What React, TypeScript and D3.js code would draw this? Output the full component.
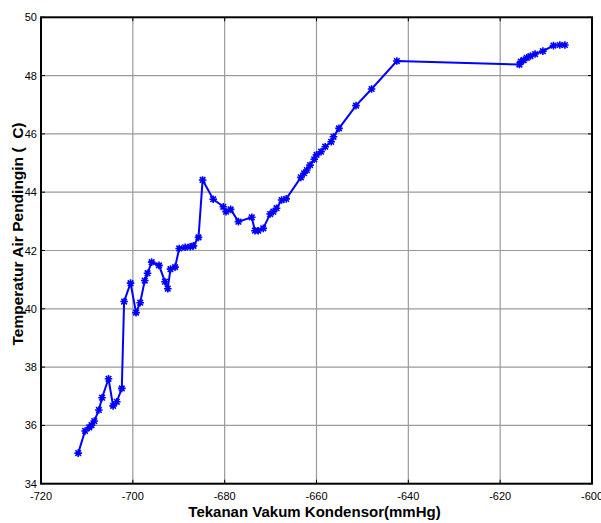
import React from "react";
import * as d3 from "d3";

const pressure = [
  -711.9, -710.4, -709.5, -709.0, -708.4, -707.4, -706.7, -705.3, -704.3, -703.5,
  -702.4, -701.9, -700.5, -699.3, -698.4, -697.4, -696.8, -695.9, -694.3, -693.0,
  -692.4, -691.8, -690.8, -689.9, -688.6, -687.5, -686.8, -685.7, -684.8, -682.5,
  -680.3, -679.7, -678.7, -677.0, -674.1, -673.4, -672.7, -671.6, -670.1, -669.4,
  -668.7, -667.6, -666.6, -663.4, -662.7, -662.1, -661.4, -660.5, -660.0, -659.0,
  -658.1, -656.8, -656.3, -655.1, -651.4, -648.0, -642.5, -615.8, -615.5, -614.9,
  -614.2, -613.4, -612.4, -610.7, -608.4, -607.0, -605.9,
];
const temperature = [
  35.05, 35.81, 35.93, 36.01, 36.15, 36.53, 36.95, 37.6, 36.67, 36.81,
  37.27, 40.25, 40.88, 39.87, 40.21, 40.97, 41.22, 41.6, 41.49, 40.93,
  40.69, 41.36, 41.43, 42.07, 42.11, 42.13, 42.16, 42.45, 44.42, 43.76,
  43.5, 43.33, 43.41, 42.99, 43.14, 42.68, 42.68, 42.76, 43.25, 43.33,
  43.45, 43.73, 43.77, 44.51, 44.65, 44.76, 44.93, 45.13, 45.28, 45.39,
  45.56, 45.73, 45.9, 46.19, 46.97, 47.54, 48.5, 48.38, 48.48, 48.53,
  48.61, 48.67, 48.74, 48.84, 49.03, 49.05, 49.05,
];
const xTicks = [-720, -700, -680, -660, -640, -620, -600];
const yTicks = [34, 36, 38, 40, 42, 44, 46, 48, 50];
const xLabel = "Tekanan Vakum Kondensor(mmHg)";
const yLabel = "Temperatur Air Pendingin (\u00A0\u00A0C)";

export default function App() {
  const W = 601, H = 523;
  const left = 41, right = 592, top = 17.3, bottom = 483.7;
  const x = d3.scaleLinear().domain([-720, -600]).range([left, right]);
  const y = d3.scaleLinear().domain([34, 50]).range([bottom, top]);
  const pts = pressure.map((p, i) => [p, temperature[i]] as [number, number]);
  const line = d3.line<[number, number]>().x(d => x(d[0])).y(d => y(d[1]));
  const font = "Arial, 'Liberation Sans', sans-serif";
  const m = 3.8;
  const md = 2.8;
  const tickLen = 4;
  return (
    <svg width={W} height={H} style={{ position: "fixed", left: 0, top: 0, background: "#fff" }}>
      <rect x={0} y={0} width={W} height={H} fill="#fff" />
      {xTicks.slice(1, -1).map(t => (
        <line key={"gx" + t} x1={x(t)} x2={x(t)} y1={top} y2={bottom} stroke="#9a9a9a" strokeWidth={1.2} />
      ))}
      {yTicks.slice(1, -1).map(t => (
        <line key={"gy" + t} x1={left} x2={right} y1={y(t)} y2={y(t)} stroke="#9a9a9a" strokeWidth={1.2} />
      ))}
      {xTicks.map(t => (
        <g key={"tx" + t}>
          <line x1={x(t)} x2={x(t)} y1={bottom} y2={bottom - tickLen} stroke="#000" strokeWidth={1} />
          <line x1={x(t)} x2={x(t)} y1={top} y2={top + tickLen} stroke="#000" strokeWidth={1} />
          <text x={x(t)} y={500} textAnchor="middle" fontFamily={font} fontSize={11} fill="#000">{t}</text>
        </g>
      ))}
      {yTicks.map(t => (
        <g key={"ty" + t}>
          <line x1={left} x2={left + tickLen} y1={y(t)} y2={y(t)} stroke="#000" strokeWidth={1} />
          <line x1={right} x2={right - tickLen} y1={y(t)} y2={y(t)} stroke="#000" strokeWidth={1} />
          <text x={37} y={y(t) + 4} textAnchor="end" fontFamily={font} fontSize={11} fill="#000">{t}</text>
        </g>
      ))}
      <rect x={left} y={top} width={right - left} height={bottom - top} fill="none" stroke="#000" strokeWidth={2} />
      <path d={line(pts) || ""} fill="none" stroke="#0000ff" strokeWidth={2} />
      {pts.map((d, i) => {
        const cx = x(d[0]), cy = y(d[1]);
        return (
          <path
            key={i}
            d={`M${cx - m},${cy}L${cx + m},${cy}M${cx},${cy - m}L${cx},${cy + m}M${cx - md},${cy - md}L${cx + md},${cy + md}M${cx - md},${cy + md}L${cx + md},${cy - md}`}
            stroke="#0000ff"
            strokeWidth={1.6}
            fill="none"
          />
        );
      })}
      <text x={314.5} y={517} textAnchor="middle" fontFamily={font} fontSize={15} fontWeight="bold" fill="#000">{xLabel}</text>
      <text transform={`translate(23,234) rotate(-90)`} textAnchor="middle" fontFamily={font} fontSize={15.5} fontWeight="bold" fill="#000">{yLabel}</text>
    </svg>
  );
}
